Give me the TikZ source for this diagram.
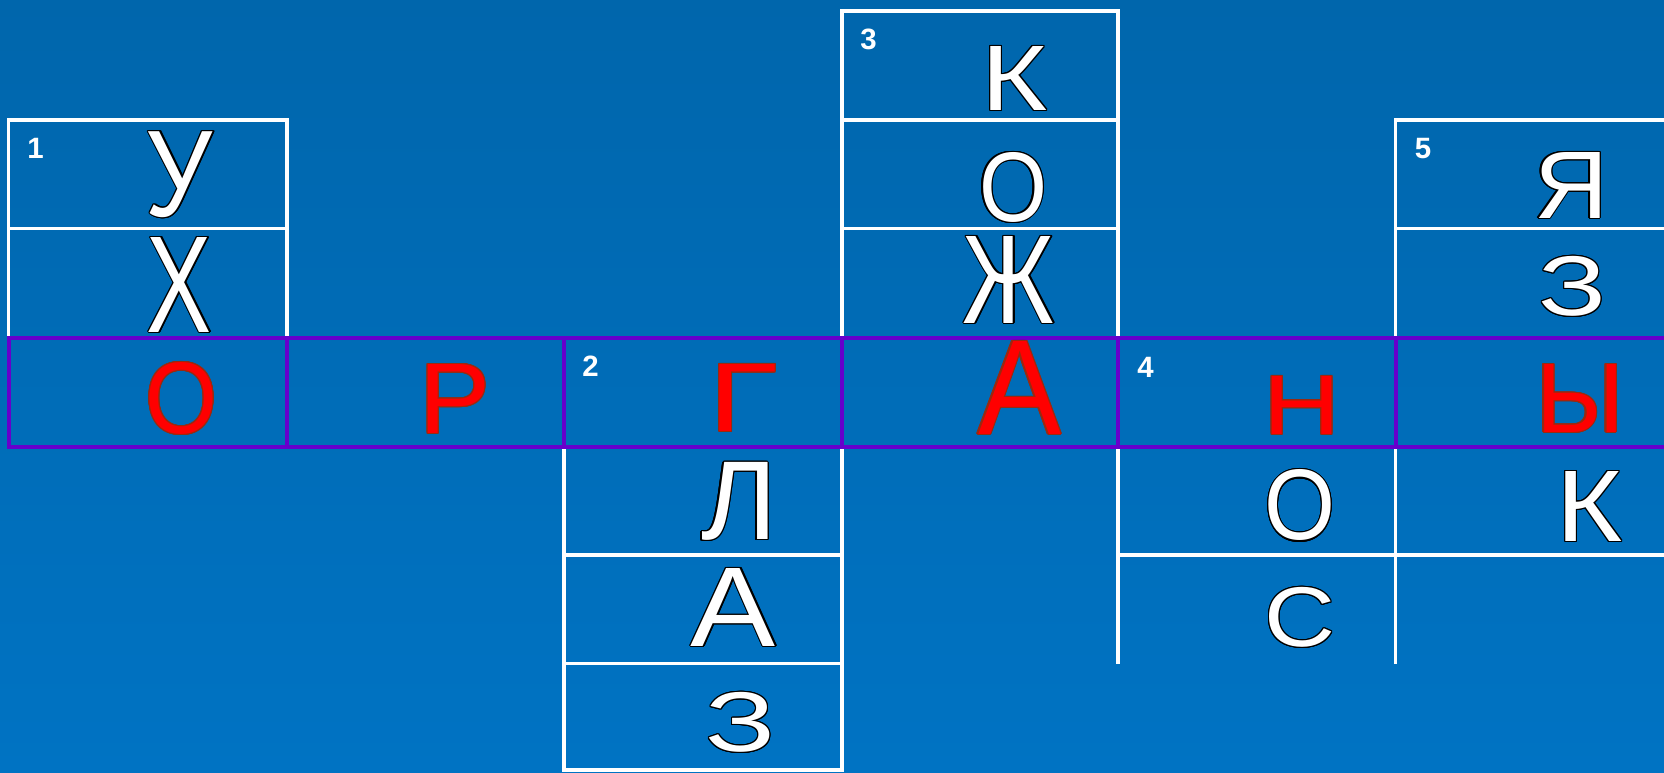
\documentclass[tikz,border=0pt]{standalone}
\usepackage{fontspec}
\setmainfont{Liberation Sans}
\usepackage{graphicx}
\usepackage{contour}
\contourlength{0.6pt}
\usetikzlibrary{positioning}
\definecolor{QuizBlueTop}{HTML}{0066AC}
\definecolor{QuizBlueBottom}{HTML}{0073C3}
\definecolor{QuizPurple}{HTML}{6600CC}
\definecolor{QuizRed}{HTML}{FF0000}
\definecolor{QuizRim}{HTML}{9A2A10}
\newlength{\pxu}
\setlength{\pxu}{0.5pt}
% letters are stretched to the box they fill on the slide (width, height in px)
\newcommand{\wlet}[3]{\contour{black}{\resizebox*{#1\pxu}{#2\pxu}{#3}}}
\newcommand{\rlet}[3]{\contour{QuizRim}{\resizebox*{#1\pxu}{#2\pxu}{#3}}}

\begin{document}
\begin{tikzpicture}[x=0.5pt,y=-0.5pt,
    grid/.style={draw=white,line width=1.6pt},
    keyrow/.style={draw=QuizPurple,line width=2pt},
    letter/.style={text=white,inner sep=0pt},
    key/.style={text=QuizRed,inner sep=0pt},
    num/.style={text=white,inner sep=0pt,font=\bfseries\fontsize{14.7pt}{15pt}\selectfont}
  ]
    \useasboundingbox (0,0) rectangle (1664,772);
    \clip (0,0) rectangle (1664,772);
    \shade[top color=QuizBlueTop,bottom color=QuizBlueBottom] (0,0) rectangle (1664,772);

    % white cells of the five words
    \draw[grid] (8.5,120) rectangle (287,337.5);
    \draw[grid] (8.5,228.5) -- (287,228.5);
    \draw[grid] (564,446.5) rectangle (842,770);
    \draw[grid] (564,555) -- (842,555);
    \draw[grid] (564,663.5) -- (842,663.5);
    \draw[grid] (842,11) rectangle (1118,337.5);
    \draw[grid] (842,120) -- (1118,120);
    \draw[grid] (842,228.5) -- (1118,228.5);
    \draw[grid] (1118,663.5) -- (1118,446.5) -- (1395.5,446.5) -- (1395.5,663.5);
    \draw[grid] (1118,555) -- (1700,555);
    \draw[grid] (1395.5,446.5) -- (1395.5,120) -- (1700,120);
    \draw[grid] (1395.5,228.5) -- (1700,228.5);

    % the row with the key word
    \draw[keyrow] (8.5,337.5) rectangle (1700,446.5);
    \draw[keyrow] (287,337.5) -- (287,446.5);
    \draw[keyrow] (564,337.5) -- (564,446.5);
    \draw[keyrow] (842,337.5) -- (842,446.5);
    \draw[keyrow] (1118,337.5) -- (1118,446.5);
    \draw[keyrow] (1395.5,337.5) -- (1395.5,446.5);

    \node[num] (n1) at (35.5,148.5) {1};
    \node[num] (n2) at (590.5,366) {2};
    \node[num] (n3) at (868.5,39) {3};
    \node[num] (n4) at (1145.5,367) {4};
    \node[num] (n5) at (1423,148.5) {5};

    \node[letter] (u1) at (179.5,175) {\wlet{67}{86}{У}};
    \node[letter] (u2) at (179.5,285.5) {\wlet{65}{95}{Х}};
    \node[key] (k1) at (181.5,399) {\rlet{72}{72}{О}};
    \node[key] (k2) at (455,399.5) {\rlet{71}{69}{Р}};
    \node[key] (k3) at (743.5,398.5) {\rlet{68}{67}{Г}};
    \node[letter] (g2) at (739,502) {\wlet{76}{78}{Л}};
    \node[letter] (g3) at (733.5,608) {\wlet{85}{78}{А}};
    \node[letter] (g4) at (740.5,723) {\wlet{70}{60}{З}};
    \node[letter] (s1) at (1014.5,79) {\wlet{66}{64}{К}};
    \node[letter] (s2) at (1013,188) {\wlet{68}{70}{О}};
    \node[letter] (s3) at (1009,280.5) {\wlet{92}{87}{Ж}};
    \node[key] (k4) at (1019.5,388.5) {\rlet{83}{93}{А}};
    \node[key] (k5) at (1302,406) {\rlet{77}{58}{Н}};
    \node[letter] (m2) at (1300,506) {\wlet{71}{71}{О}};
    \node[letter] (m3) at (1300,618) {\wlet{71}{60}{С}};
    \node[letter] (t1) at (1571,186) {\wlet{74}{66}{Я}};
    \node[letter] (t2) at (1572.5,287) {\wlet{68}{60}{З}};
    \node[key] (k6) at (1580,399) {\rlet{88}{68}{Ы}};
    \node[letter] (t4) at (1589.5,507) {\wlet{66}{70}{К}};
  \end{tikzpicture}
\end{document}
